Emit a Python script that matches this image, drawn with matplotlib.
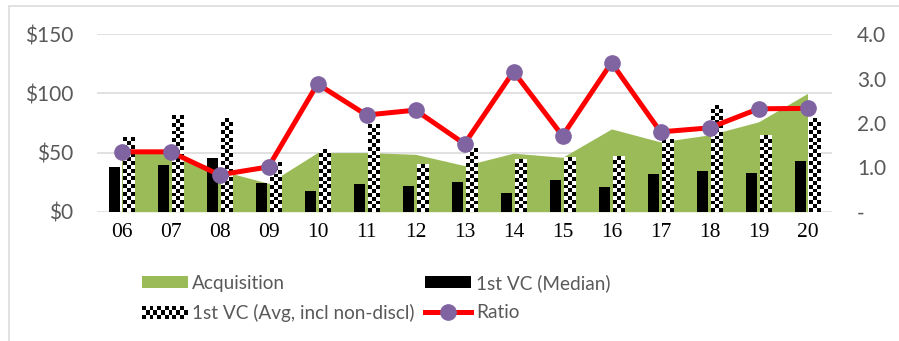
"""Acquisition size vs first VC round, with the acquisition/median ratio on a
second axis. Bars for the average round use a checkerboard fill."""
import numpy as np
import matplotlib

matplotlib.use("Agg")
import matplotlib.pyplot as plt  # noqa: E402
from matplotlib.legend_handler import HandlerBase  # noqa: E402
from matplotlib.patches import Rectangle  # noqa: E402
from matplotlib.ticker import FuncFormatter  # noqa: E402

years = ["06", "07", "08", "09", "10", "11", "12", "13", "14", "15",
         "16", "17", "18", "19", "20"]
acquisition = [49, 50, 35, 24, 50, 50, 48.5, 39, 49.5, 46, 70, 59, 65, 76, 100]
vc_median = [37.5, 39.5, 45, 24, 17.5, 23.5, 21.5, 25, 16, 26.5, 20.5, 32, 34, 32.5, 43]
vc_avg = [63, 82, 79, 42, 53, 74, 40, 54, 44.5, 46, 47, 61, 90, 65, 79]
ratio = [1.35, 1.35, 0.83, 1.01, 2.88, 2.18, 2.29, 1.53, 3.16, 1.71,
         3.36, 1.80, 1.89, 2.32, 2.33]

GREEN = "#9BBB59"
RED = "#FF0000"
PURPLE = "#8064A2"
GRID = "#D9D9D9"
TEXT = "#595959"
SANS = ["Lato", "DejaVu Sans"]
SERIF = ["Liberation Serif", "DejaVu Serif"]

BAR_W = 0.235
BAR_OFF = 0.144


def checker(rows, cols):
    return np.indices((rows, cols)).sum(axis=0) % 2


class CheckerHandler(HandlerBase):
    """Legend key drawn as a strip of black squares on white."""

    def create_artists(self, legend, orig_handle, xdescent, ydescent,
                       width, height, fontsize, trans):
        rows, cols = 3, 12
        w, h = width / cols, height / rows
        out = []
        for r in range(rows):
            for c in range(cols):
                if (r + c) % 2 == 0:
                    out.append(Rectangle((-xdescent + c * w, -ydescent + r * h), w, h,
                                         facecolor="black", edgecolor="none",
                                         transform=trans))
        return out


fig = plt.figure(figsize=(8.99, 3.41), dpi=100)
ax = fig.add_axes([97 / 899, 1 - 211.7 / 341, 735 / 899, 177.4 / 341])
ax2 = ax.twinx()

x = np.arange(len(years))
ax.set_xlim(-0.5, len(years) - 0.5)
ax.set_ylim(0, 150)
ax2.set_ylim(0, 4)

ax.fill_between(x, acquisition, color=GREEN, linewidth=0, zorder=1)
ax.bar(x - BAR_OFF, vc_median, width=BAR_W, color="black", zorder=2)
avg_bars = ax.bar(x + BAR_OFF, vc_avg, width=BAR_W, color="white", zorder=2)

# checkerboard fill for the average bars, squares sized in pixels
fig.canvas.draw()
p0 = ax.transData.transform((0, 0))
p1 = ax.transData.transform((1, 1))
sx, sy = p1 - p0
cols = 3
sq = BAR_W * sx / cols
for bar in avg_bars:
    bx, bh = bar.get_x(), bar.get_height()
    rows = max(1, int(round(bh * sy / sq)))
    ax.imshow(checker(rows, cols), cmap="gray", vmin=0, vmax=1, origin="lower",
              interpolation="nearest", aspect="auto",
              extent=(bx, bx + BAR_W, 0, bh), zorder=2.5)

ax2.plot(x, ratio, color=RED, linewidth=3.6, marker="o", markersize=11,
         markerfacecolor=PURPLE, markeredgecolor=PURPLE, zorder=5)

ax.set_yticks([0, 50, 100, 150])
ax.yaxis.set_major_formatter(FuncFormatter(lambda v, _: f"${v:.0f}"))
ax2.set_yticks([0, 1, 2, 3, 4])
ax2.yaxis.set_major_formatter(FuncFormatter(lambda v, _: "-" if v == 0 else f"{v:.1f}"))
ax.set_xticks(x)
ax.set_xticklabels(years)

ax.grid(axis="y", color=GRID, linewidth=1.1)
ax.set_axisbelow(True)
for a in (ax, ax2):
    for s in a.spines.values():
        s.set_visible(False)

ax.tick_params(axis="y", length=0, pad=17, labelsize=15, labelcolor=TEXT)
ax2.tick_params(axis="y", length=0, pad=18, labelsize=15, labelcolor=TEXT)
ax.tick_params(axis="x", length=0, pad=8, labelsize=15.5, labelcolor="black")
for lab in ax.get_yticklabels() + ax2.get_yticklabels():
    lab.set_family(SANS)
for lab in ax.get_xticklabels():
    lab.set_family(SERIF)

# legend: two columns, acquisition / median on the first row
h_acq = Rectangle((0, 0), 1, 1, facecolor=GREEN, edgecolor="none")
h_med = Rectangle((0, 0), 1, 1, facecolor="black", edgecolor="none")
h_avg = Rectangle((0, 0), 1, 1, facecolor="white", edgecolor="none")
h_ratio = plt.Line2D([], [], color=RED, linewidth=3.6, marker="o", markersize=11,
                     markerfacecolor=PURPLE, markeredgecolor=PURPLE)
leg = fig.legend([h_acq, h_avg, h_med, h_ratio],
                 ["Acquisition", "1st VC (Avg, incl non-discl)",
                  "1st VC (Median)", "Ratio"],
                 handler_map={h_avg: CheckerHandler()},
                 ncol=2, loc="upper left", bbox_to_anchor=(142 / 899, 1 - 274 / 341),
                 frameon=False, borderpad=0, borderaxespad=0,
                 handlelength=2.4, handleheight=0.63, handletextpad=0.25,
                 columnspacing=0.55, labelspacing=0.64,
                 prop={"family": SANS, "size": 13.7})
for t in leg.get_texts():
    t.set_color(TEXT)

# outer chart frame
fig.patches.append(Rectangle((8.5 / 899, -0.1), 1.1, 1.1 - 6 / 341, fill=False,
                             edgecolor=GRID, linewidth=1.1,
                             transform=fig.transFigure, figure=fig))

fig.savefig("out.png", dpi=100)
